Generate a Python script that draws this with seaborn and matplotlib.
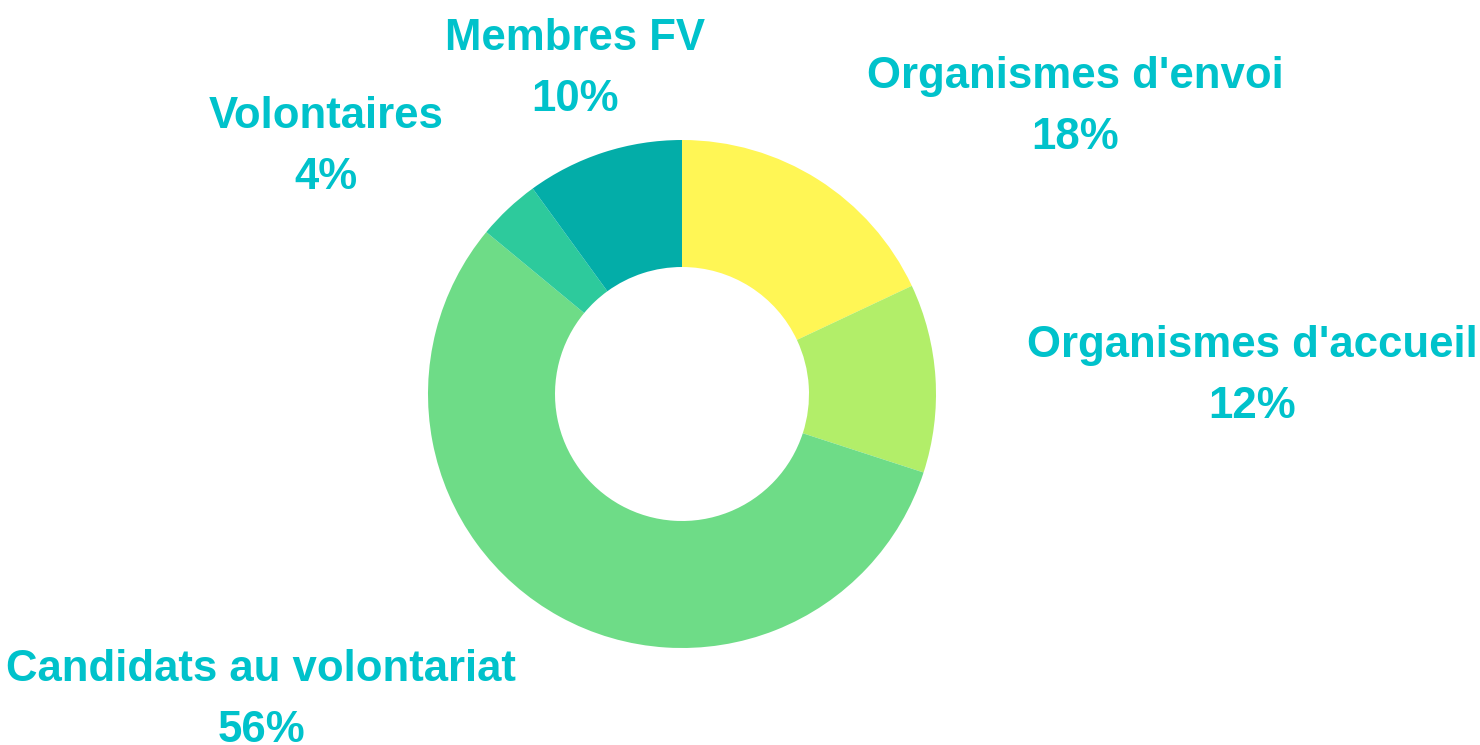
import matplotlib
matplotlib.use('Agg')
import matplotlib.pyplot as plt
import seaborn as sns

# Donut chart: share of respondents by group
groups = ["Organismes d'envoi", "Organismes d'accueil", "Candidats au volontariat",
          "Volontaires", "Membres FV"]
shares = [18, 12, 56, 4, 10]
colors = ['#FFF655', '#B2EE69', '#6EDC87', '#2DCA9C', '#03ADA8']

# label anchor (x centre, baseline of name line) in pixels from top-left
label_pos = [(1075, 88), (1252, 357), (261, 681), (326, 128), (575, 50)]

sns.set_theme(style='white')
plt.rcParams['font.family'] = ['Liberation Sans', 'DejaVu Sans']

W, H = 1480, 745
fig = plt.figure(figsize=(W / 100, H / 100), dpi=100)
ax = fig.add_axes([0, 0, 1, 1])

cx, cy, r = 682, H - 394, 254
ax.pie(shares, colors=colors, startangle=90, counterclock=False,
       radius=r, center=(cx, cy),
       wedgeprops=dict(width=r * 0.5, linewidth=0))
ax.set_xlim(0, W)
ax.set_ylim(0, H)
ax.set_aspect('equal')
ax.axis('off')

text_color = '#00C2CB'
for name, val, (x, y) in zip(groups, shares, label_pos):
    ax.text(x, H - y, name, ha='center', va='baseline', fontsize=31.5,
            fontweight='bold', color=text_color)
    ax.text(x, H - y - 61, f'{val}%', ha='center', va='baseline', fontsize=31.5,
            fontweight='bold', color=text_color)

fig.savefig('out.png', dpi=100)
